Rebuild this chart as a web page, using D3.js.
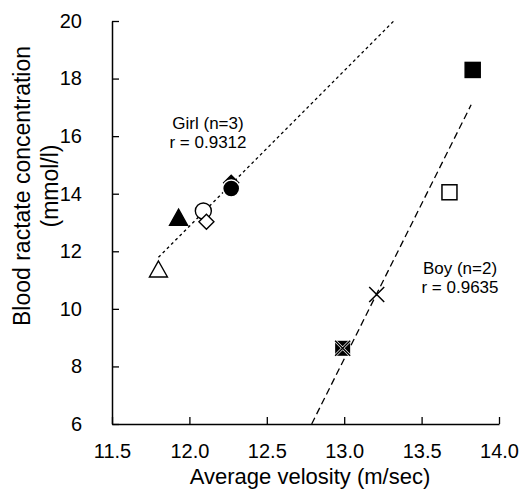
<!DOCTYPE html>
<html>
<head>
<meta charset="utf-8">
<script src="https://cdn.jsdelivr.net/npm/d3@7"></script>
<style>
  body { margin: 0; background: #fff; }
  text { font-family: "Liberation Sans", Arial, sans-serif; fill: #000; }
</style>
</head>
<body>
<svg id="chart" width="521" height="493"></svg>
<script>
// girl points (velocity m/s, lactate mmol/l)
const girlPoints = [
  { x: 11.80, y: 11.35, shape: "triangle", filled: false },
  { x: 11.93, y: 13.15, shape: "triangle", filled: true },
  { x: 12.09, y: 13.40, shape: "circle", filled: false },
  { x: 12.11, y: 13.03, shape: "diamond", filled: false },
  { x: 12.27, y: 14.38, shape: "diamond", filled: true },
  { x: 12.27, y: 14.18, shape: "circle", filled: true }
];
// boy points
const boyPoints = [
  { x: 12.99, y: 8.63, shape: "xsquare", filled: true },
  { x: 13.21, y: 10.50, shape: "cross", filled: false },
  { x: 13.68, y: 14.05, shape: "square", filled: false },
  { x: 13.83, y: 18.30, shape: "square", filled: true }
];
// trend lines
const girlLine = [[11.80, 11.79], [13.32, 20.0]];
const boyLine = [[12.79, 6.0], [13.82, 17.09]];

const xTicks = [11.5, 12.0, 12.5, 13.0, 13.5, 14.0];
const yTicks = [6, 8, 10, 12, 14, 16, 18, 20];

const svg = d3.select("#chart");
const x = d3.scaleLinear().domain([11.5, 14.0]).range([112, 499]);
const y = d3.scaleLinear().domain([6, 20]).range([424, 21]);

// axes (ticks pointing inward)
const xAxis = svg.append("g")
  .attr("transform", `translate(0,${y(6)})`)
  .call(d3.axisBottom(x).tickValues(xTicks).tickFormat(d3.format(".1f")).tickSizeInner(-7).tickSizeOuter(0).tickPadding(20));
const yAxis = svg.append("g")
  .attr("transform", `translate(${x(11.5)},0)`)
  .call(d3.axisLeft(y).tickValues(yTicks).tickSizeInner(-7).tickSizeOuter(0).tickPadding(30));

[xAxis, yAxis].forEach(g => {
  g.select(".domain").attr("stroke", "#000").attr("stroke-width", 1.5);
  g.selectAll(".tick line").attr("stroke", "#000").attr("stroke-width", 1.3);
  g.selectAll(".tick text").attr("font-size", "20px")
    .style("font-family", "Liberation Sans, Arial, sans-serif");
});

// trend lines
const line = d3.line().x(d => x(d[0])).y(d => y(d[1]));
svg.append("path").datum(girlLine).attr("d", line)
  .attr("fill", "none").attr("stroke", "#000").attr("stroke-width", 1.3)
  .attr("stroke-dasharray", "3,3");
svg.append("path").datum(boyLine).attr("d", line)
  .attr("fill", "none").attr("stroke", "#000").attr("stroke-width", 1.3)
  .attr("stroke-dasharray", "7,4");

// markers
function drawMarker(g, d) {
  const cx = x(d.x), cy = y(d.y);
  const fill = d.filled ? "#000" : "#fff";
  if (d.shape === "circle") {
    g.append("circle").attr("cx", cx).attr("cy", cy).attr("r", d.filled ? 8.5 : 8)
      .attr("fill", fill).attr("stroke", d.filled ? "#fff" : "#000").attr("stroke-width", 1.4);
  } else if (d.shape === "triangle") {
    const s = 9;
    g.append("path")
      .attr("d", `M${cx},${cy - s}L${cx + s},${cy + s * 0.78}L${cx - s},${cy + s * 0.78}Z`)
      .attr("fill", fill).attr("stroke", "#000").attr("stroke-width", 1.4);
  } else if (d.shape === "diamond") {
    const s = 7.5;
    g.append("path")
      .attr("d", `M${cx},${cy - s}L${cx + s},${cy}L${cx},${cy + s}L${cx - s},${cy}Z`)
      .attr("fill", fill).attr("stroke", "#000").attr("stroke-width", 1.4);
  } else if (d.shape === "square") {
    const s = 7.5;
    g.append("rect").attr("x", cx - s).attr("y", cy - s).attr("width", 2 * s).attr("height", 2 * s)
      .attr("fill", fill).attr("stroke", "#000").attr("stroke-width", 1.5);
  } else if (d.shape === "cross" || d.shape === "xsquare") {
    const s = 7.5;
    if (d.shape === "xsquare") {
      g.append("rect").attr("x", cx - s).attr("y", cy - s).attr("width", 2 * s).attr("height", 2 * s)
        .attr("fill", "#000");
      g.append("path")
        .attr("d", `M${cx - s},${cy - s}L${cx + s},${cy + s}M${cx + s},${cy - s}L${cx - s},${cy + s}`)
        .attr("stroke", "#fff").attr("stroke-width", 2.6);
    }
    g.append("path")
      .attr("d", `M${cx - s},${cy - s}L${cx + s},${cy + s}M${cx + s},${cy - s}L${cx - s},${cy + s}`)
      .attr("stroke", "#000").attr("stroke-width", 1.5);
  }
}

const marks = svg.append("g");
girlPoints.concat(boyPoints).forEach(d => drawMarker(marks, d));

// annotations
svg.append("text").attr("x", 208).attr("y", 129).attr("text-anchor", "middle")
  .attr("font-size", "17px").text("Girl (n=3)");
svg.append("text").attr("x", 208).attr("y", 148).attr("text-anchor", "middle")
  .attr("font-size", "17px").text("r = 0.9312");
svg.append("text").attr("x", 460).attr("y", 274).attr("text-anchor", "middle")
  .attr("font-size", "17px").text("Boy (n=2)");
svg.append("text").attr("x", 460).attr("y", 293).attr("text-anchor", "middle")
  .attr("font-size", "17px").text("r = 0.9635");

// axis titles
svg.append("text").attr("x", 310).attr("y", 484).attr("text-anchor", "middle")
  .attr("font-size", "22px").text("Average velosity (m/sec)");
const yt = svg.append("text").attr("transform", "translate(0,186) rotate(-90)")
  .attr("text-anchor", "middle").attr("font-size", "23px");
yt.append("tspan").attr("x", 0).attr("y", 30).text("Blood ractate concentration");
yt.append("tspan").attr("x", 0).attr("y", 58).text("(mmol/l)");
</script>
</body>
</html>
